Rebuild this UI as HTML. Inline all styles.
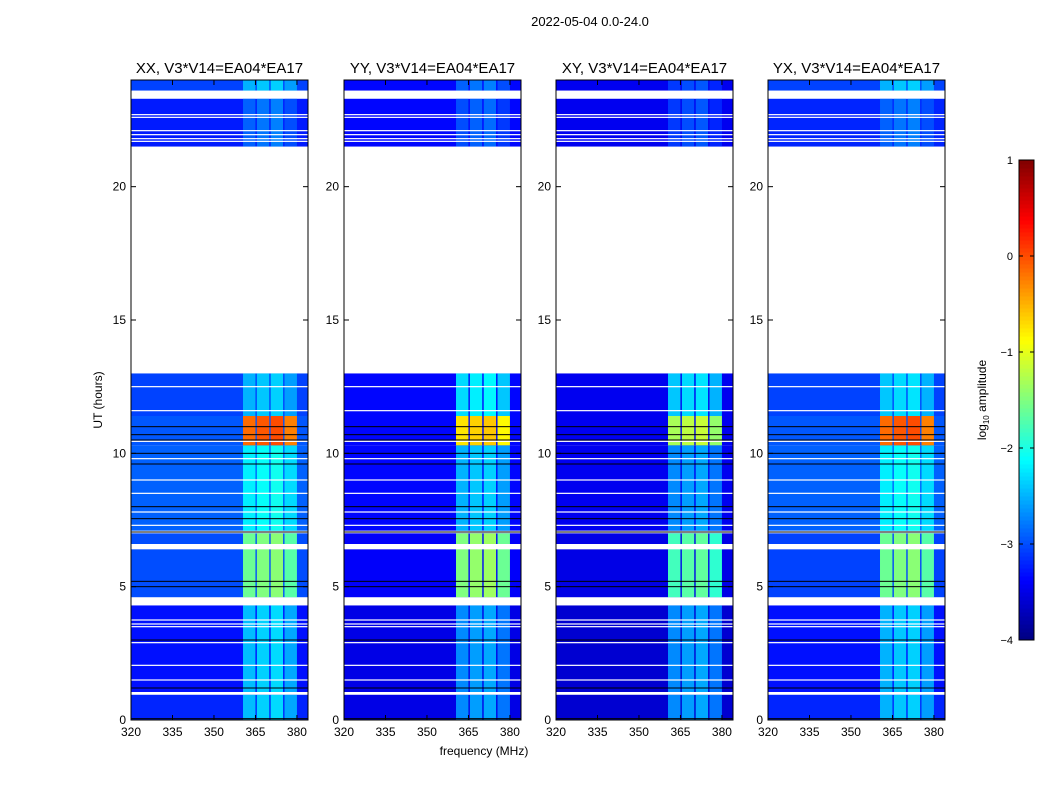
<!DOCTYPE html>
<html><head><meta charset="utf-8"><style>
body{margin:0;background:#fff;font-family:"Liberation Sans",sans-serif;}
svg text{font-family:"Liberation Sans",sans-serif;}
</style></head><body>
<svg id="fig" width="1050" height="800" xmlns="http://www.w3.org/2000/svg">
<text x="590" y="26" font-size="13" text-anchor="middle">2022-05-04 0.0-24.0</text>
<text x="484" y="755" font-size="12" text-anchor="middle">frequency (MHz)</text>
<text x="102" y="400" font-size="12" text-anchor="middle" transform="rotate(-90 102 400)">UT (hours)</text>
<text x="986" y="400" font-size="12" text-anchor="middle" transform="rotate(-90 986 400)">log<tspan font-size="8" dy="3">10</tspan><tspan dy="-3"> amplitude</tspan></text>
</svg>
<script>
const panelTitles = ["XX, V3*V14=EA04*EA17","YY, V3*V14=EA04*EA17","XY, V3*V14=EA04*EA17","YX, V3*V14=EA04*EA17"];
const segStart = [0, 1.05, 4.6, 7.1, 10.3, 11.4, 21.5, 23.6];
const segEnd   = [0.95, 4.3, 7.0, 10.3, 11.4, 13.0, 23.3, 24];
const bgXX = [-3.2,-3.3,-3.0,-2.9,-2.95,-3.05,-3.25,-3.05];
const bandXX = [-2.45,-2.45,-1.6,-2.2,-0.15,-2.5,-2.9,-2.5];
const bgYY = [-3.5,-3.5,-3.4,-3.35,-3.35,-3.35,-3.35,-3.35];
const bandYY = [-2.7,-2.7,-1.5,-2.5,-0.75,-2.3,-3.0,-2.9];
const bgXY = [-3.6,-3.6,-3.5,-3.45,-3.45,-3.45,-3.45,-3.45];
const bandXY = [-2.7,-2.7,-1.8,-2.7,-1.3,-2.4,-3.1,-3.1];
const bgYX = [-3.2,-3.3,-3.05,-2.9,-2.95,-3.05,-3.2,-3.05];
const bandYX = [-2.5,-2.5,-1.6,-2.2,-0.15,-2.4,-2.9,-2.5];
const bandLo = [360.5, 365.5, 370.5, 375.5];
const bandHi = [365, 370, 375, 380];
const bandOffset = [0, 0.1, 0.15, -0.1];
const whiteLines = [1.5,2.05,2.9,3.5,3.6,3.75,7.3,7.8,8.5,9.0,9.8,10.45,11.6,12.5,21.7,21.8,21.95,22.1,22.6,22.7];
const whiteGaps0 = [0.95, 4.3, 6.4, 13.0, 23.3];
const whiteGaps1 = [1.05, 4.6, 6.6, 21.5, 23.6];
const blackLines = [0.05,1.2,3.0,5.0,5.2,7.05,7.55,8.0,9.6,10.0,10.5,10.7,11.0];
const xTicks = [320,335,350,365,380];
const yTicks = [0,5,10,15,20];
const cbTicks = [1,0,-1,-2,-3,-4];

const bgs=[bgXX,bgYY,bgXY,bgYX], bands=[bandXX,bandYY,bandXY,bandYX];
const panelLeft=[131,344,556,768], PW=177, TOP=80, BOT=720;
const fMin=320, fMax=384, tMax=24, vMin=-4, vMax=1;
const svg=document.getElementById('fig'), NS='http://www.w3.org/2000/svg';
function jet(v){let t=Math.max(0,Math.min(1,(v-vMin)/(vMax-vMin)));
 const c=x=>Math.round(255*Math.max(0,Math.min(1,x)));
 return `rgb(${c(1.5-Math.abs(4*t-3))},${c(1.5-Math.abs(4*t-2))},${c(1.5-Math.abs(4*t-1))})`;}
function mk(tag,attrs,parent){const e=document.createElementNS(NS,tag);for(const k in attrs)e.setAttribute(k,attrs[k]);(parent||svg).appendChild(e);return e;}
panelLeft.forEach((L,p)=>{
 const xs=f=>L+(f-fMin)/(fMax-fMin)*PW, ys=t=>BOT-(t/tMax)*(BOT-TOP);
 const g=mk('g',{});
 
 
 segStart.forEach((s,i)=>{
  const r=mk('rect',{x:xs(fMin),y:ys(segEnd[i]),width:xs(fMax)-xs(fMin),height:ys(s)-ys(segEnd[i]),fill:jet(bgs[p][i])},g);
  
  
  bandLo.forEach((b,j)=>{
   const c=mk('rect',{x:xs(b),y:ys(segEnd[i]),width:xs(bandHi[j])-xs(b),height:ys(s)-ys(segEnd[i]),fill:jet(bands[p][i]+bandOffset[j])},g);
   
   
  });
 });
 whiteGaps0.forEach((a,i)=>{const r=mk('rect',{x:L,y:ys(whiteGaps1[i]),width:PW,height:ys(a)-ys(whiteGaps1[i]),fill:'#fff'},g);
  
  });
 whiteLines.forEach(t=>{const r=mk('rect',{x:L,y:ys(t)-0.6,width:PW,height:1.2,fill:'#fff'},g);
  
  });
 blackLines.forEach(t=>{const r=mk('rect',{x:L,y:ys(t)-0.5,width:PW,height:1,fill:'#000'},g);
  
  });
 const fr=mk('rect',{x:L,y:TOP,width:PW,height:BOT-TOP,fill:'none',stroke:'#000','stroke-width':1},g);
 
 
 const ti=mk('text',{x:L+PW/2,y:TOP-7,'font-size':15,'text-anchor':'middle'},g);ti.textContent=panelTitles[p];
 
 
 xTicks.forEach(f=>{const X=xs(f);
  mk('line',{x1:X,x2:X,y1:BOT,y2:BOT-5,stroke:'#000'},g);mk('line',{x1:X,x2:X,y1:TOP,y2:TOP+5,stroke:'#000'},g);
  const t=mk('text',{x:X,y:BOT+16,'font-size':12,'text-anchor':'middle'},g);t.textContent=f;
  
  });
 yTicks.forEach(h=>{const Y=ys(h);
  mk('line',{x1:L,x2:L+5,y1:Y,y2:Y,stroke:'#000'},g);mk('line',{x1:L+PW,x2:L+PW-5,y1:Y,y2:Y,stroke:'#000'},g);
  const t=mk('text',{x:L-5,y:Y+4,'font-size':12,'text-anchor':'end'},g);t.textContent=h;
  
  });
});
const CX=1019,CW=15,CT=160,CB=640;
const cbs=v=>CB-(v-vMin)/(vMax-vMin)*(CB-CT);
const cg=mk('g',{});


for(let i=0;i<120;i++){const v0=vMin+i*(vMax-vMin)/120,v1=vMin+(i+1)*(vMax-vMin)/120;
 mk('rect',{x:CX,y:cbs(v1),width:CW,height:cbs(v0)-cbs(v1)+0.5,fill:jet((v0+v1)/2)},cg);}
mk('rect',{x:CX,y:CT,width:CW,height:CB-CT,fill:'none',stroke:'#000'},cg);
cbTicks.forEach(v=>{const Y=cbs(v);
 mk('line',{x1:CX,x2:CX+4,y1:Y,y2:Y,stroke:'#000'},cg);mk('line',{x1:CX+CW,x2:CX+CW-4,y1:Y,y2:Y,stroke:'#000'},cg);
 const t=mk('text',{x:CX-6,y:Y+4,'font-size':11,'text-anchor':'end'},cg);t.textContent=v<0?'\u2212'+(-v):v;
 
 });
</script>
</body></html>
